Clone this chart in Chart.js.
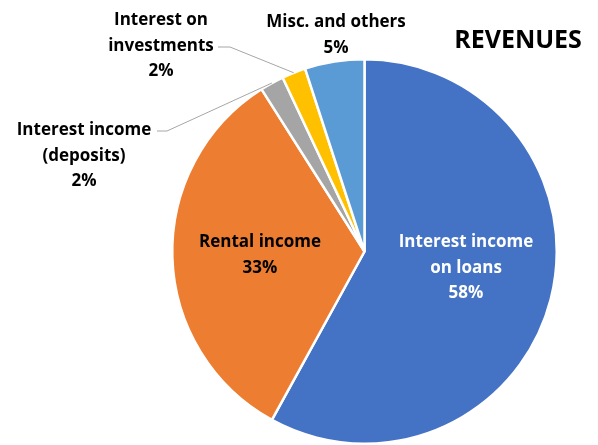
<!DOCTYPE html>
<html>
<head>
<meta charset="utf-8">
<script src="https://cdn.jsdelivr.net/npm/chart.js@4"></script>
<style>
html,body{margin:0;padding:0;background:#fff;}
#wrap{width:598px;height:445px;position:relative;}
</style>
</head>
<body>
<div id="wrap"><canvas id="c" width="598" height="445"></canvas></div>
<script>
const categories = ["Interest income on loans", "Rental income", "Interest income (deposits)", "Interest on investments", "Misc. and others"];
const values = [58, 33, 2, 2, 5];
const colors = ["#4472C4", "#ED7D31", "#A5A5A5", "#FFC000", "#5B9BD5"];
const labelLines = [["Interest income", "on loans"], ["Rental income"], ["Interest income", "(deposits)"], ["Interest on", "investments"], ["Misc. and others"]];
const titleText = "REVENUES";

// label layout: center x, first baseline y, colour, optional leader
const labelLayout = [
  {x: 466, y: 247, color: "#FFFFFF"},
  {x: 260, y: 247, color: "#000000"},
  {x: 84, y: 135, color: "#000000", leader: {x0: 157, y0: 131, x1: 167}},
  {x: 161, y: 25, color: "#000000", leader: {x0: 218, y0: 47, x1: 230}},
  {x: 336, y: 27, color: "#000000"}
];
const lineGap = 25.5;
const FONT = "bold 17px 'Open Sans'";

const labelPlugin = {
  id: "pieLabels",
  afterDatasetsDraw(chart) {
    const ctx = chart.ctx;
    const meta = chart.getDatasetMeta(0);
    const total = values.reduce((a, b) => a + b, 0);
    ctx.save();
    ctx.font = FONT;
    ctx.textAlign = "center";
    ctx.textBaseline = "alphabetic";
    meta.data.forEach((arc, i) => {
      const L = labelLayout[i];
      const lines = labelLines[i].concat([Math.round(values[i] / total * 100) + "%"]);
      ctx.fillStyle = L.color;
      lines.forEach((t, k) => ctx.fillText(t, L.x, L.y + k * lineGap));
      if (L.leader) {
        const p = arc.getProps(["x", "y", "startAngle", "endAngle", "outerRadius"], true);
        const mid = (p.startAngle + p.endAngle) / 2;
        const ex = p.x + Math.cos(mid) * p.outerRadius;
        const ey = p.y + Math.sin(mid) * p.outerRadius;
        ctx.strokeStyle = "#A6A6A6";
        ctx.lineWidth = 1;
        ctx.beginPath();
        ctx.moveTo(L.leader.x0, L.leader.y0);
        ctx.lineTo(L.leader.x1, L.leader.y0);
        ctx.lineTo(ex, ey);
        ctx.stroke();
      }
    });
    ctx.font = "bold 25px 'Open Sans'";
    ctx.fillStyle = "#000";
    ctx.fillText(titleText, 518, 48);
    ctx.restore();
  }
};

new Chart(document.getElementById("c"), {
  type: "pie",
  data: {
    labels: categories,
    datasets: [{
      data: values,
      backgroundColor: colors,
      borderColor: "#FFFFFF",
      borderWidth: 2.5
    }]
  },
  options: {
    responsive: false,
    animation: false,
    layout: {padding: {left: 171, right: 40, top: 58, bottom: 0}},
    plugins: {legend: {display: false}, tooltip: {enabled: false}, title: {display: false}}
  },
  plugins: [labelPlugin]
});
</script>
</body>
</html>
